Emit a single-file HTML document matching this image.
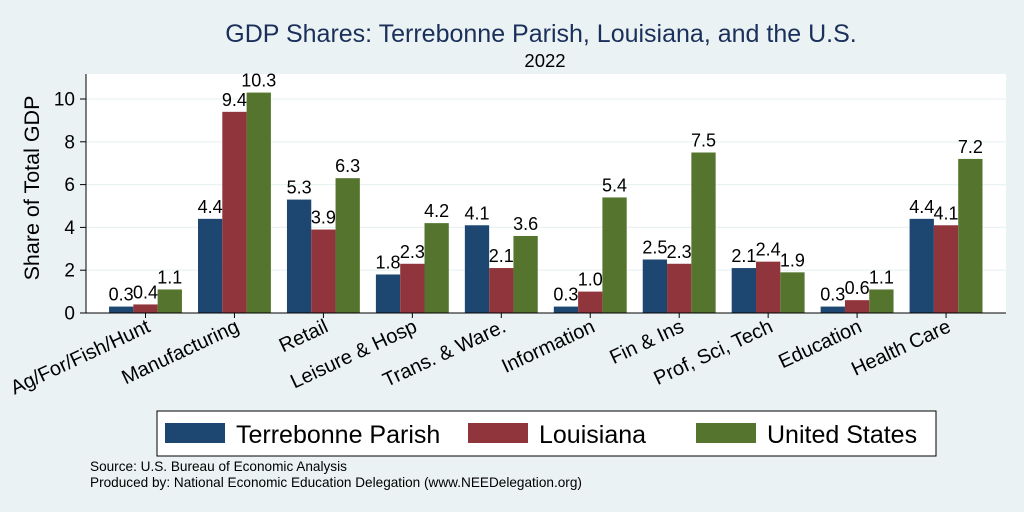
<!DOCTYPE html>
<html><head><meta charset="utf-8"><style>
body{margin:0;background:#eaf2f3;}
svg{display:block;font-family:"Liberation Sans",Arial,sans-serif;}
</style></head><body>
<svg id="chart" width="1024" height="512" xmlns="http://www.w3.org/2000/svg">
<rect width="1024" height="512" fill="#eaf2f3"/>
<text x="541" y="42" text-anchor="middle" font-size="25" fill="#1a2f5a">GDP Shares: Terrebonne Parish, Louisiana, and the U.S.</text>
<text x="545" y="67" text-anchor="middle" font-size="18.5" fill="#000">2022</text>
<rect x="86" y="74" width="920" height="239" fill="#fff"/>
<g id="grid"></g>
<g id="bars"></g>
<g id="yaxis"></g>
<g id="xaxis"></g>
<text transform="translate(39,188) rotate(-90)" text-anchor="middle" font-size="21.5">Share of Total GDP</text>
<g>
<rect x="157" y="411" width="779" height="45" fill="#fff" stroke="#000" stroke-width="1"/>
<rect x="165" y="423" width="60" height="20" fill="#1d4670"/>
<text x="236" y="443" font-size="25">Terrebonne Parish</text>
<rect x="468" y="423" width="60" height="20" fill="#90353b"/>
<text x="539" y="443" font-size="25">Louisiana</text>
<rect x="696" y="423" width="60" height="20" fill="#55752f"/>
<text x="767" y="443" font-size="25">United States</text>
</g>
<text x="90" y="471" font-size="13.6">Source: U.S. Bureau of Economic Analysis</text>
<text x="90" y="487" font-size="13.6">Produced by: National Economic Education Delegation (www.NEEDelegation.org)</text>
</svg>
<script>
const categories=["Ag/For/Fish/Hunt","Manufacturing","Retail","Leisure & Hosp","Trans. & Ware.","Information","Fin & Ins","Prof, Sci, Tech","Education","Health Care"];
const terrebonne=[0.3,4.4,5.3,1.8,4.1,0.3,2.5,2.1,0.3,4.4];
const louisiana=[0.4,9.4,3.9,2.3,2.1,1.0,2.3,2.4,0.6,4.1];
const unitedStates=[1.1,10.3,6.3,4.2,3.6,5.4,7.5,1.9,1.1,7.2];
const yTicks=[0,2,4,6,8,10];
const NS="http://www.w3.org/2000/svg";
const y0=313,pxPer=21.4,c0=145.5,step=88.95,bw=24.3;
const yS=v=>y0-v*pxPer;
const xC=i=>c0+step*i;
function mk(tag,attrs,parent,txt){const e=document.createElementNS(NS,tag);for(const k in attrs)e.setAttribute(k,attrs[k]);if(txt!==undefined)e.textContent=txt;document.getElementById(parent).appendChild(e);return e;}
yTicks.forEach(t=>{
  if(t>0){const g=mk('line',{x1:86,x2:1006,y1:yS(t),y2:yS(t),stroke:'#eaf2f3','stroke-width':1.2},'grid');
  
  }
  const tk=mk('line',{x1:80,x2:86,y1:yS(t),y2:yS(t),stroke:'#000'},'yaxis');
  
  
  const l=mk('text',{x:75,y:yS(t)+6.5,'text-anchor':'end','font-size':19},'yaxis',String(t));
  
  
});
const ax=mk('line',{x1:86,x2:86,y1:74,y2:313,stroke:'#000'},'yaxis');


const xa=mk('line',{x1:86,x2:1006,y1:313,y2:313,stroke:'#000'},'xaxis');


const series=[[terrebonne,'#1d4670','terrebonne'],[louisiana,'#90353b','louisiana'],[unitedStates,'#55752f','us']];
categories.forEach((c,i)=>{
  series.forEach(([vals,col,nm],s)=>{
    const x=xC(i)-1.5*bw+s*bw,v=vals[i];
    const r=mk('rect',{x:x,y:yS(v),width:bw,height:v*pxPer,fill:col},'bars');
    
    
    const t=mk('text',{x:x+bw/2,y:yS(v)-6,'text-anchor':'middle','font-size':18},'bars',v.toFixed(1));
    
    
  });
  const tk=mk('line',{x1:xC(i),x2:xC(i),y1:313,y2:318,stroke:'#000'},'xaxis');
  
  
  const l=mk('text',{transform:`translate(${xC(i)+6},${331}) rotate(-25)`,'text-anchor':'end','font-size':20},'xaxis',c);
  
  
});
</script>
</body></html>
